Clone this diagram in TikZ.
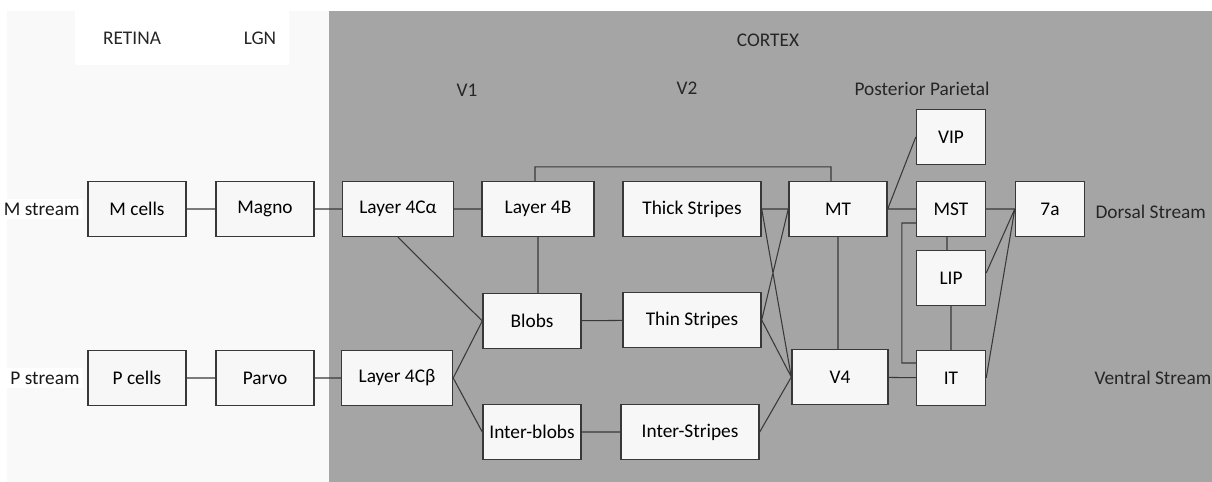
\documentclass[tikz,border=0pt]{standalone}
\usepackage{fontspec}
\setmainfont{Carlito}
\usetikzlibrary{positioning}

\definecolor{cortexgray}{HTML}{A5A5A5}
\definecolor{sidegray}{HTML}{F9F9F9}
\definecolor{edgegray}{HTML}{383838}

\begin{document}
\begin{tikzpicture}[on grid, font=\fontsize{11}{13}\selectfont,
    box/.style={draw=edgegray, line width=0.8pt, fill=white!97!black, text=black,
        minimum width=1.96cm, minimum height=1.1cm, inner sep=0pt},
    widebox/.style={box, minimum width=2.76cm},
    smallbox/.style={box, minimum width=1.38cm},
    region/.style={text=black!85},
    stream/.style={text=black!90, fill=white, inner sep=2pt},
    link/.style={draw=edgegray, line width=0.6pt}]
    \useasboundingbox (0,0) rectangle (24.24,-9.64);
    \fill[sidegray] (0.14,-0.22) rectangle (6.58,-9.64);
    \fill[cortexgray] (6.58,-0.22) rectangle (24.24,-9.64);
    \fill[white] (1.5,-0.22) rectangle (5.78,-1.3);

    \node[region] (retina) at (2.64,-0.76) {RETINA};
    \node[region] (lgn) at (5.2,-0.76) {LGN};
    \node[region] (cortex) at (15.36,-0.8) {CORTEX};
    \node[region] (v1) at (9.34,-1.8) {V1};
    \node[region] (v2) at (13.74,-1.76) {V2};
    \node[region] (parietal) at (18.44,-1.78) {Posterior Parietal};

    \node[box] (mcells) at (2.74,-4.18) {M cells};
    \node[box] (magno) [right=2.56cm of mcells] {Magno};
    \node[box, minimum width=2.22cm] (l4ca) [right=2.66cm of magno] {Layer 4Cα};
    \node[box, minimum width=2.24cm] (l4b) [right=2.8cm of l4ca] {Layer 4B};
    \node[widebox] (thick) [right=3.08cm of l4b] {Thick Stripes};
    \node[box] (mt) [right=2.92cm of thick] {MT};
    \node[smallbox] (mst) [right=2.26cm of mt] {MST};
    \node[smallbox] (7a) [right=1.98cm of mst] {7a};
    \node[smallbox] (vip) [above=1.44cm of mst] {VIP};
    \node[smallbox] (lip) [below=1.38cm of mst] {LIP};

    \node[box] (pcells) [below=3.38cm of mcells] {P cells};
    \node[box] (parvo) [right=2.56cm of pcells] {Parvo};
    \node[box, minimum width=2.22cm] (l4cb) [right=2.64cm of parvo] {Layer 4Cβ};
    \node[box] (blobs) at (10.64,-6.42) {Blobs};
    \node[box] (interblobs) [below=2.22cm of blobs] {Inter-blobs};
    \node[widebox] (thin) [below=2.22cm of thick] {Thin Stripes};
    \node[widebox] (interstripes) at (13.8,-8.64) {Inter-Stripes};
    \node[box, minimum width=1.92cm] (v4) at (16.8,-7.54) {V4};
    \node[smallbox] (it) [below=3.38cm of mst] {IT};

    \node[stream, anchor=east] (mstream) at ([xshift=-0.08cm]mcells.west) {M stream};
    \node[stream, anchor=east] (pstream) at ([xshift=-0.08cm]pcells.west) {P stream};
    \node[region, anchor=west, inner sep=0pt] (dorsal) at ([xshift=0.2cm, yshift=-0.06cm]7a.east) {Dorsal Stream};
    \node[region, anchor=west, inner sep=0pt] (ventral) at ([xshift=0.18cm]7a.east |- it) {Ventral Stream};

    \path[link]
        (mcells) -- (magno)
        (magno) -- (l4ca)
        (pcells) -- (parvo)
        (parvo) -- (l4cb)
        (l4ca) -- (l4b)
        (l4ca.south) -- (blobs.west)
        (l4cb.east) -- (blobs.west)
        (l4cb.east) -- (interblobs.west)
        (l4b.south) -- (l4b.south |- blobs.north)
        ([xshift=-0.06cm]l4b.north) -- ++(0,0.28) -| ([xshift=-0.14cm]mt.north)
        (blobs) -- (thin)
        (interblobs) -- (interstripes)
        (thick.east) -- (mt.west)
        (thick.east) -- (v4.west)
        (thin.east) -- (mt.west)
        (thin.east) -- (v4.west)
        (interstripes.east) -- (v4.west)
        (mt.south) -- (mt.south |- v4.north)
        (mt.east) -- (vip.west)
        (mt) -- (mst)
        (v4) -- (it)
        ([xshift=-0.08cm]mst.south) -- ([xshift=-0.08cm]lip.north)
        (lip) -- (it)
        ([yshift=-0.28cm]mst.west) -- ++(-0.28,0) |- ([yshift=0.3cm]it.west)
        (mst) -- (7a)
        ([yshift=0.1cm]lip.east) -- (7a.west)
        (it.east) -- (7a.west);
\end{tikzpicture}
\end{document}
